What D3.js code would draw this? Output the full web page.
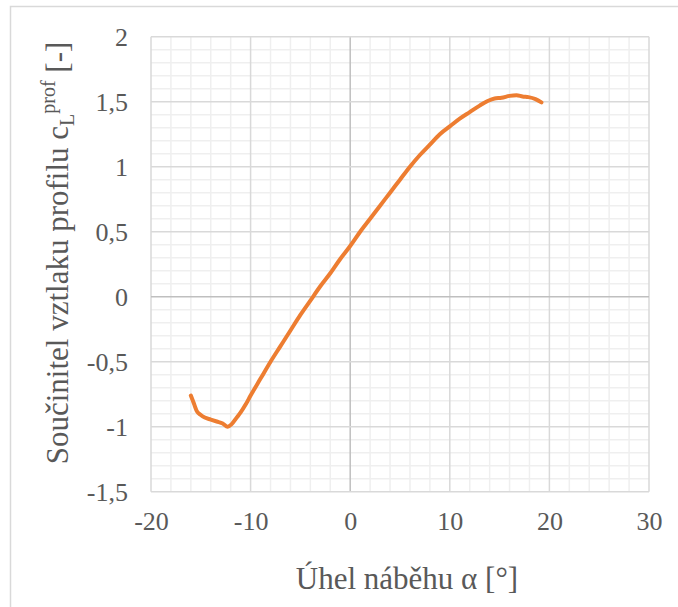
<!DOCTYPE html>
<html>
<head>
<meta charset="utf-8">
<script src="https://cdn.jsdelivr.net/npm/d3@7"></script>
<style>
  html, body { margin: 0; padding: 0; background: #fff; }
  svg { display: block; }
</style>
</head>
<body>
<svg id="chart" width="678" height="607"></svg>
<script>
// ---- data ----
const alpha = [-16.0, -15.7, -15.4, -15.0, -14.6, -14.0, -13.4, -12.8, -12.3, -11.9, -11.4, -11.0, -10.5, -10.0,
  -9.0, -8.0, -7.0, -6.0, -5.0, -4.0, -3.0, -2.0, -1.0, 0, 1, 2, 3, 4, 5, 6, 7, 8, 9, 10, 11, 12, 13,
  13.8, 14.5, 15.2, 16.0, 16.7, 17.3, 17.9, 18.6, 19.2];
const cl = [-0.76, -0.82, -0.88, -0.91, -0.93, -0.945, -0.96, -0.975, -1.0, -0.98, -0.93, -0.89, -0.83, -0.76,
  -0.63, -0.5, -0.38, -0.26, -0.14, -0.03, 0.08, 0.18, 0.29, 0.39, 0.5, 0.6, 0.7, 0.8, 0.9, 1.0, 1.09, 1.17,
  1.25, 1.31, 1.37, 1.42, 1.47, 1.505, 1.525, 1.53, 1.545, 1.55, 1.54, 1.535, 1.52, 1.495];
const xTicks = [-20, -10, 0, 10, 20, 30];
const yTicks = [-1.5, -1, -0.5, 0, 0.5, 1, 1.5, 2];
const xTitle = "Úhel náběhu α [°]";
const yTitleMain = "Součinitel vztlaku profilu c";
const yTitleSub = "L";
const yTitleSup = "prof";
const yTitleEnd = " [-]";

// ---- layout ----
const FONT = "'Liberation Serif', 'Times New Roman', serif";
const svg = d3.select("#chart");
const pLeft = 151, pRight = 649, pTop = 36.7, pBottom = 491.7;
const x = d3.scaleLinear().domain([-20, 30]).range([pLeft, pRight]);
const y = d3.scaleLinear().domain([-1.5, 2]).range([pBottom, pTop]);

// outer chart border
svg.append("rect").attr("x", 10.5).attr("y", 6.5).attr("width", 700).attr("height", 700)
  .attr("fill", "none").attr("stroke", "#d9d9d9").attr("stroke-width", 1.5);

const fmt = v => String(v).replace(".", ",");

// minor grid
const xMinor = d3.range(-20, 30.001, 2).filter(v => v % 10 !== 0);
const yMinor = d3.range(-15, 20.001, 1).map(v => v / 10).filter(v => Math.abs(v * 2 - Math.round(v * 2)) > 1e-6);
svg.append("g").selectAll("line").data(xMinor).join("line")
  .attr("x1", d => x(d)).attr("x2", d => x(d)).attr("y1", pTop).attr("y2", pBottom)
  .attr("stroke", "#efefef").attr("stroke-width", 1.5);
svg.append("g").selectAll("line").data(yMinor).join("line")
  .attr("y1", d => y(d)).attr("y2", d => y(d)).attr("x1", pLeft).attr("x2", pRight)
  .attr("stroke", "#efefef").attr("stroke-width", 1.5);

// major grid
svg.append("g").selectAll("line").data(xTicks).join("line")
  .attr("x1", d => x(d)).attr("x2", d => x(d)).attr("y1", pTop).attr("y2", pBottom)
  .attr("stroke", d => d === 0 ? "#bfbfbf" : "#d9d9d9").attr("stroke-width", 1.5);
svg.append("g").selectAll("line").data(yTicks).join("line")
  .attr("y1", d => y(d)).attr("y2", d => y(d)).attr("x1", pLeft).attr("x2", pRight)
  .attr("stroke", d => d === 0 ? "#bfbfbf" : "#d9d9d9").attr("stroke-width", 1.5);

// axes via d3 axis (labels only)
const xAxis = svg.append("g").attr("transform", `translate(0,${pBottom})`)
  .call(d3.axisBottom(x).tickValues(xTicks).tickFormat(fmt).tickSize(0).tickPadding(20));
xAxis.attr("font-family", null).attr("font-size", null);
xAxis.select(".domain").remove();
xAxis.selectAll("text").style("font-family", FONT).style("font-size", "26px").style("fill", "#595959")
  .attr("dy", "0.71em");

const yAxis = svg.append("g").attr("transform", `translate(${pLeft},0)`)
  .call(d3.axisLeft(y).tickValues(yTicks).tickFormat(fmt).tickSize(0).tickPadding(23));
yAxis.attr("font-family", null).attr("font-size", null);
yAxis.select(".domain").remove();
yAxis.selectAll("text").style("font-family", FONT).style("font-size", "26px").style("fill", "#595959");

// line
const line = d3.line().x((d, i) => x(alpha[i])).y(d => y(d)).curve(d3.curveMonotoneX);
svg.append("path").datum(cl).attr("d", line)
  .attr("fill", "none").attr("stroke", "#ed7d31").attr("stroke-width", 4)
  .attr("stroke-linejoin", "round").attr("stroke-linecap", "round");

// titles
svg.append("text").attr("x", (pLeft + pRight) / 2 + 7).attr("y", 589)
  .attr("text-anchor", "middle").style("font-family", FONT).style("font-size", "31px")
  .style("fill", "#595959").text(xTitle);

const yt = svg.append("text").attr("transform", `translate(68,253) rotate(-90)`)
  .attr("text-anchor", "middle").style("font-family", FONT).style("font-size", "31px")
  .style("fill", "#595959");
yt.append("tspan").text(yTitleMain);
yt.append("tspan").style("font-size", "20px").attr("dy", 6).text(yTitleSub);
yt.append("tspan").style("font-size", "20px").attr("dy", -19).text(yTitleSup);
yt.append("tspan").attr("dy", 13).text(yTitleEnd);
</script>
</body>
</html>
